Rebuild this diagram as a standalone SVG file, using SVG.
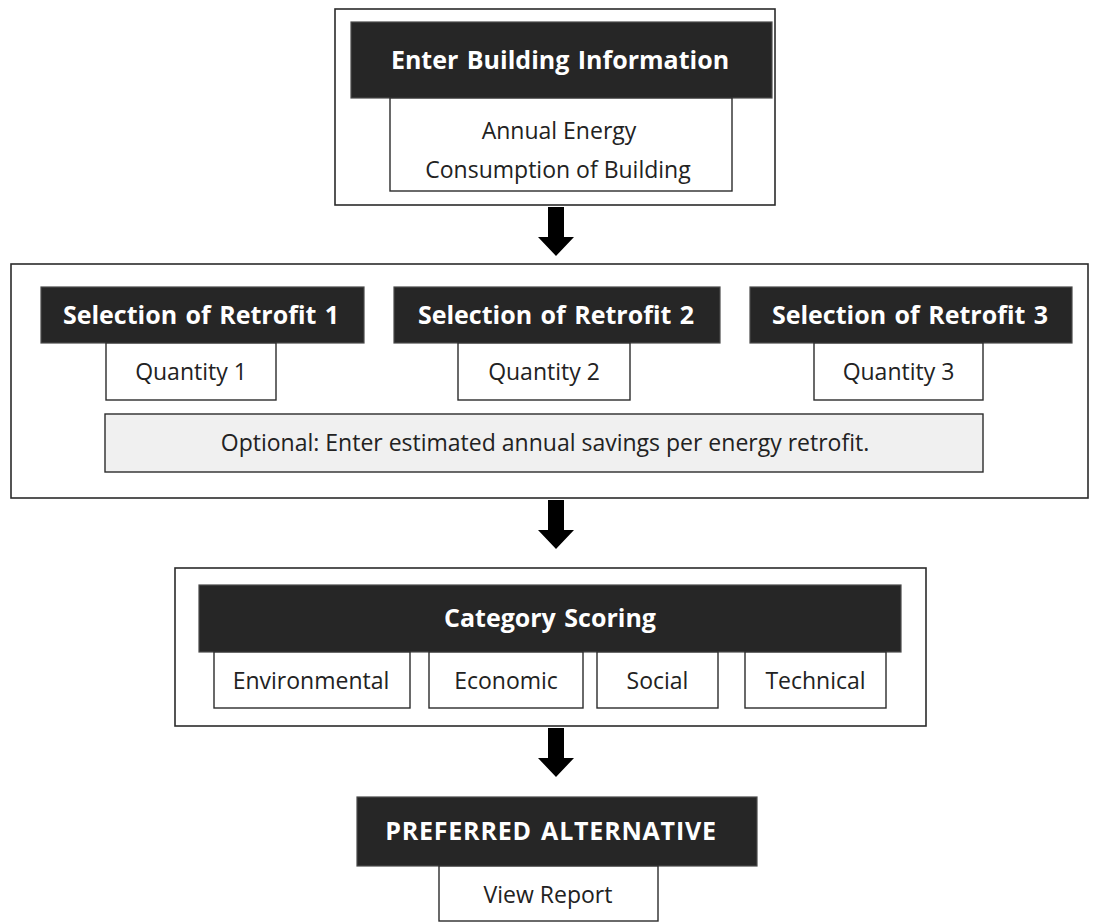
<svg xmlns="http://www.w3.org/2000/svg" width="1097" height="922" viewBox="0 0 1097 922">
  <style>
    .frame { fill: #ffffff; stroke: #2b2b2b; stroke-width: 1.6; }
    .head { fill: #262626; stroke: #4a4a4a; stroke-width: 1.2; }
    .sub { fill: #ffffff; stroke: #2b2b2b; stroke-width: 1.4; }
    .note { fill: #f0f0f0; stroke: #2b2b2b; stroke-width: 1.4; }
    .htxt { font-family: "Open Sans", "Noto Sans", sans-serif; font-weight: 700; font-size: 25px; fill: #ffffff; text-anchor: middle; word-spacing: 2px; }
    .caps { letter-spacing: 0.8px; }
    .txt { font-family: "Open Sans", "Noto Sans", sans-serif; font-size: 23px; fill: #222222; text-anchor: middle; }
    .arrow { fill: #000000; }
  </style>

  <!-- Step 1: building information -->
  <g id="building-info">
    <rect class="frame" x="335" y="9" width="440" height="196"/>
    <rect class="head" x="351" y="22" width="421" height="76"/>
    <text class="htxt" x="560" y="69">Enter Building Information</text>
    <rect class="sub" x="390" y="98" width="342" height="93"/>
    <text class="txt" x="559" y="139">Annual Energy</text>
    <text class="txt" x="558" y="178">Consumption of Building</text>
  </g>

  <!-- Step 2: retrofit selection -->
  <g id="retrofit-selection">
    <rect class="frame" x="11" y="264" width="1077" height="234"/>
  </g>
  <g id="retrofit-1">
    <rect class="head" x="41" y="287" width="323" height="56"/>
    <text class="htxt" x="201" y="324">Selection of Retrofit 1</text>
    <rect class="sub" x="106" y="343" width="170" height="57"/>
    <text class="txt" x="191" y="380">Quantity 1</text>
  </g>
  <g id="retrofit-2">
    <rect class="head" x="394" y="287" width="326" height="56"/>
    <text class="htxt" x="556" y="324">Selection of Retrofit 2</text>
    <rect class="sub" x="458" y="343" width="172" height="57"/>
    <text class="txt" x="544" y="380">Quantity 2</text>
  </g>
  <g id="retrofit-3">
    <rect class="head" x="750" y="287" width="322" height="56"/>
    <text class="htxt" x="910" y="324">Selection of Retrofit 3</text>
    <rect class="sub" x="814" y="343" width="169" height="57"/>
    <text class="txt" x="898.5" y="380">Quantity 3</text>
  </g>
  <g id="savings-note">
    <rect class="note" x="105" y="414" width="878" height="58"/>
    <text class="txt" x="545" y="451">Optional: Enter estimated annual savings per energy retrofit.</text>
  </g>

  <!-- Step 3: category scoring -->
  <g id="category-scoring">
    <rect class="frame" x="175" y="568" width="751" height="158"/>
    <rect class="head" x="199" y="585" width="702" height="67"/>
    <text class="htxt" x="550" y="627">Category Scoring</text>
  </g>
  <g id="cat-environmental">
    <rect class="sub" x="214" y="652" width="196" height="56"/>
    <text class="txt" x="311" y="689">Environmental</text>
  </g>
  <g id="cat-economic">
    <rect class="sub" x="429" y="652" width="154" height="56"/>
    <text class="txt" x="506" y="689">Economic</text>
  </g>
  <g id="cat-social">
    <rect class="sub" x="597" y="652" width="121" height="56"/>
    <text class="txt" x="657.5" y="689">Social</text>
  </g>
  <g id="cat-technical">
    <rect class="sub" x="745" y="652" width="141" height="56"/>
    <text class="txt" x="815.5" y="689">Technical</text>
  </g>

  <!-- Step 4: result -->
  <g id="preferred-alternative">
    <rect class="head" x="357" y="797" width="400" height="69"/>
    <text class="htxt caps" x="551" y="840">PREFERRED ALTERNATIVE</text>
    <rect class="sub" x="439" y="866" width="219" height="55"/>
    <text class="txt" x="548" y="903">View Report</text>
  </g>

  <!-- Block arrows between steps -->
  <g id="connectors">
    <polygon class="arrow" points="548,207 564,207 564,237 574,237 556,256 538,237 548,237"/>
    <polygon class="arrow" points="548,500 564,500 564,530 574,530 556,549 538,530 548,530"/>
    <polygon class="arrow" points="548,728 564,728 564,758 574,758 556,777 538,758 548,758"/>
  </g>
</svg>
